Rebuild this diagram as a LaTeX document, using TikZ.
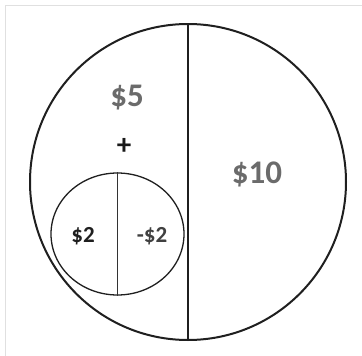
\documentclass[tikz,border=0pt]{standalone}
\usepackage{fontspec}
\setmainfont{Carlito}
\usetikzlibrary{shapes.geometric}

\begin{document}
\begin{tikzpicture}[
            x=1pt, y=-1pt,
            whole/.style={circle, draw=black!88, line width=2pt,
                          minimum size=316pt, inner sep=0pt},
            part/.style={ellipse, draw=black!88, line width=1.3pt,
                         minimum width=133pt, minimum height=122pt, inner sep=0pt},
            big/.style={font=\bfseries\fontsize{33}{36}\selectfont, text=black!58},
            small/.style={font=\bfseries\fontsize{23}{26}\selectfont},
        ]
            \useasboundingbox (0,0) rectangle (362,356);
            % light frame
            \draw[black!12, line width=1pt] (5.5,356) -- (5.5,5.5) -- (362,5.5);

            \node[whole] (outer) at (188,182) {};
            \node[part]  (inner) at (117.5,234) {};

            \draw[black!88, line width=2pt] (outer.north) -- (outer.south);
            \draw[black!80, line width=1pt] (inner.north) -- (inner.south);

            \node[big] (five) at (127,98) {\$5};
            \node[big] (ten)  at (257,174) {\$10};
            \node[small, text=black!90, font=\bfseries\fontsize{29}{30}\selectfont] (plus) at (124,146) {+};
            \node[small, text=black!88] (pos)  at (83,236) {\$2};
            \node[small, text=black!75] (neg)  at (152,236) {-\$2};
        \end{tikzpicture}
\end{document}
